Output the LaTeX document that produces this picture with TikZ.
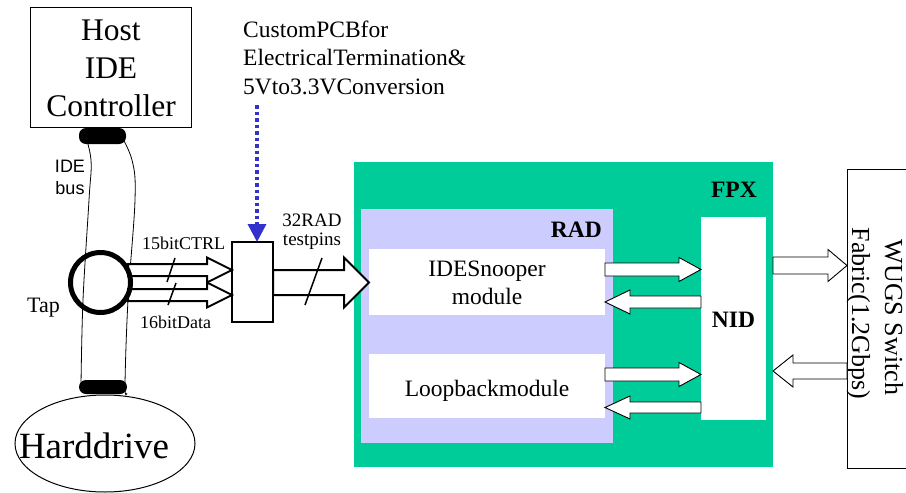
\documentclass[tikz,border=0pt]{standalone}
\usepackage{fontspec}
\setmainfont{Liberation Serif}
\setsansfont{Liberation Sans}
\usetikzlibrary{arrows.meta,calc,shapes.geometric}

\definecolor{fpxgreen}{RGB}{0,204,153}
\definecolor{radlilac}{RGB}{204,204,255}
\definecolor{noteblue}{RGB}{51,51,204}

\newcommand\fs[2]{\fontsize{#1}{#2}\selectfont}

% Hollow block arrow: [style]{start}{tip}{shaft half width}{head half width}{head length}
\newcommand\blockarrow[6][]{%
  \draw[#1] let \p1=#2, \p2=#3, \n1={sign(\x2-\x1)} in
    (\x1,\y1+#4pt) -- (\x2-\n1*#6pt,\y1+#4pt) -- (\x2-\n1*#6pt,\y1+#5pt)
    -- (\x2,\y1) -- (\x2-\n1*#6pt,\y1-#5pt) -- (\x2-\n1*#6pt,\y1-#4pt)
    -- (\x1,\y1-#4pt) -- cycle;}

\begin{document}
\begin{tikzpicture}[x=1pt,y=-1pt,
  box/.style={draw, line width=1.5pt, fill=white, inner sep=0pt, outer sep=0pt},
  region/.style={draw=none, inner sep=0pt, outer sep=0pt},
  lbl/.style={inner sep=0pt, anchor=base},
  pad/.style={fill=black, rounded corners=7pt, inner sep=0pt, outer sep=0pt},
  cable/.style={line width=0.8pt},
  thickarrow/.style={draw, line width=2pt, fill=white, line join=miter},
  thinarrow/.style={draw, line width=0.9pt, fill=white, line join=miter},
  slash/.style={line width=1.5pt},
  main/.style={font=\fs{23.5}{28}},
  bold/.style={font=\bfseries\fs{23.5}{28}}]

\useasboundingbox (0,0) rectangle (906,493);

% ---- IDE cable between host and drive ----
\draw[cable] plot[smooth, tension=0.6] coordinates {(84,131) (91,160) (89,200) (83,300) (81,385)};
\draw[cable] plot[smooth, tension=0.6] coordinates {(118,130) (132,160) (135,200) (128,300) (125,385) (127,393)};

% ---- host controller ----
\node[box, minimum width=161, minimum height=120] (host) at (111,67.5) {};
\node[lbl, font=\fs{31.5}{38}] (hostA) at (host.center |- 0,40) {Host};
\node[lbl, font=\fs{31.5}{38}] (hostB) at (host.center |- 0,78) {IDE};
\node[lbl, font=\fs{31.5}{38}] (hostC) at (host.center |- 0,116) {Controller};

% connector pads
\node[pad, minimum width=47, minimum height=16] (toppad) at (102.5,136) {};
\node[pad, minimum width=48, minimum height=14] (botpad) at (103,387) {};

% ---- hard drive ----
\node[draw, ellipse, line width=1pt, minimum width=180, minimum height=97, inner sep=0pt] (hdd) at (105,443.5) {};
\node[lbl, font=\fs{37}{40}] (hddtext) at (94,458) {Harddrive};

\node[lbl, font=\sffamily\fs{18}{22}] (busA) at (70,172) {IDE};
\node[lbl, font=\sffamily\fs{18}{22}] (busB) at (70,194) {bus};

% ---- custom PCB ----
\node[box, minimum width=41, minimum height=80] (pcb) at (252.5,282) {};

\coordinate (ctrlin) at (128,270);
\coordinate (datain) at (128,295);
\blockarrow[thickarrow]{(ctrlin)}{(ctrlin -| pcb.west)}{6}{12.5}{25}
\blockarrow[thickarrow]{(datain)}{(datain -| pcb.west)}{6}{12.5}{25}
\draw[slash] (167,282) -- (175,258);
\draw[slash] (168,305) -- (176,283);

% tap ring
\node[circle, draw, line width=5pt, minimum size=60, inner sep=0pt] (tap) at (100.5,282.5) {};
\node[lbl, font=\fs{22}{26}, anchor=base west] (taplbl) at (27,312) {Tap};
\node[lbl, font=\fs{18}{22}, anchor=base west] (ctrllbl) at (142,249) {15bitCTRL};
\node[lbl, font=\fs{18}{22}, anchor=base west] (datalbl) at (140,328) {16bitData};

% note about the PCB
\node[lbl, main, anchor=base west] (noteA) at (243,37) {CustomPCBfor};
\node[lbl, main, anchor=base west] (noteB) at (243,65.5) {ElectricalTermination\&};
\node[lbl, main, anchor=base west] (noteC) at (243,94) {5Vto3.3VConversion};
\coordinate (note) at (257,105);
\draw[noteblue, line width=3.5pt, dash pattern=on 3.5pt off 3pt,
      -{Triangle[width=18pt,length=18pt]}] (note) -- (note |- pcb.north);

% ---- FPX with RAD and NID ----
\node[region, fill=fpxgreen, minimum width=419, minimum height=305] (fpx) at (563.5,314.5) {};
\node[region, fill=radlilac, minimum width=252, minimum height=234] (rad) at (487,326) {};
\node[region, fill=white, minimum width=236, minimum height=66] (snoop) at (487,282) {};
\node[region, fill=white, minimum width=236, minimum height=64] (loop) at (487,386) {};
\node[region, fill=white, minimum width=65, minimum height=203] (nid) at (733.5,318.5) {};

\node[lbl, bold, anchor=base east] (fpxlbl) at (757,197) {FPX};
\node[lbl, bold, anchor=base east] (radlbl) at (602,237) {RAD};
\node[lbl, bold] (nidlbl) at (nid.center |- 0,327) {NID};
\node[lbl, main] (snoopA) at (snoop.center |- 0,276) {IDESnooper};
\node[lbl, main] (snoopB) at (snoop.center |- 0,304) {module};
\node[lbl, main] (looplbl) at (loop.center |- 0,396) {Loopbackmodule};

% 32-bit test pin bus into RAD
\blockarrow[thickarrow]{(pcb.east |- 0,282.5)}{(snoop.west |- 0,282.5)}{12.5}{25}{25}
\draw[slash] (305,305) -- (322,258);
\node[lbl, font=\fs{19}{21}] (padA) at (312,226) {32RAD};
\node[lbl, font=\fs{19}{21}] (padB) at (312,245) {testpins};

% module <-> NID
\blockarrow[thinarrow]{(snoop.east |- 0,269.5)}{(nid.west |- 0,269.5)}{6.5}{12}{22}
\blockarrow[thinarrow]{(nid.west |- 0,302)}{(snoop.east |- 0,302)}{6}{12}{25}
\blockarrow[thinarrow]{(loop.east |- 0,374.5)}{(nid.west |- 0,374.5)}{6.5}{12}{22}
\blockarrow[thinarrow]{(nid.west |- 0,407.5)}{(loop.east |- 0,407.5)}{5.5}{11.5}{25}

% ---- WUGS switch fabric ----
\node[draw, line width=0.9pt, inner sep=0pt, outer sep=0pt, anchor=north west,
      minimum width=80, minimum height=299] (wugs) at (847,169) {};
\node[lbl, font=\fs{26}{33}, rotate=-90] (wugsA) at (885,317.5) {WUGS Switch};
\node[lbl, font=\fs{26}{33}, rotate=-90] (wugsB) at (852,313.5) {Fabric(1.2Gbps)};

\blockarrow[thinarrow]{(fpx.east |- 0,265.5)}{(wugs.west |- 0,265.5)}{8.5}{16}{19}
\blockarrow[thinarrow]{(wugs.west |- 0,371)}{(fpx.east |- 0,371)}{8}{16}{20}

\end{tikzpicture}
\end{document}
